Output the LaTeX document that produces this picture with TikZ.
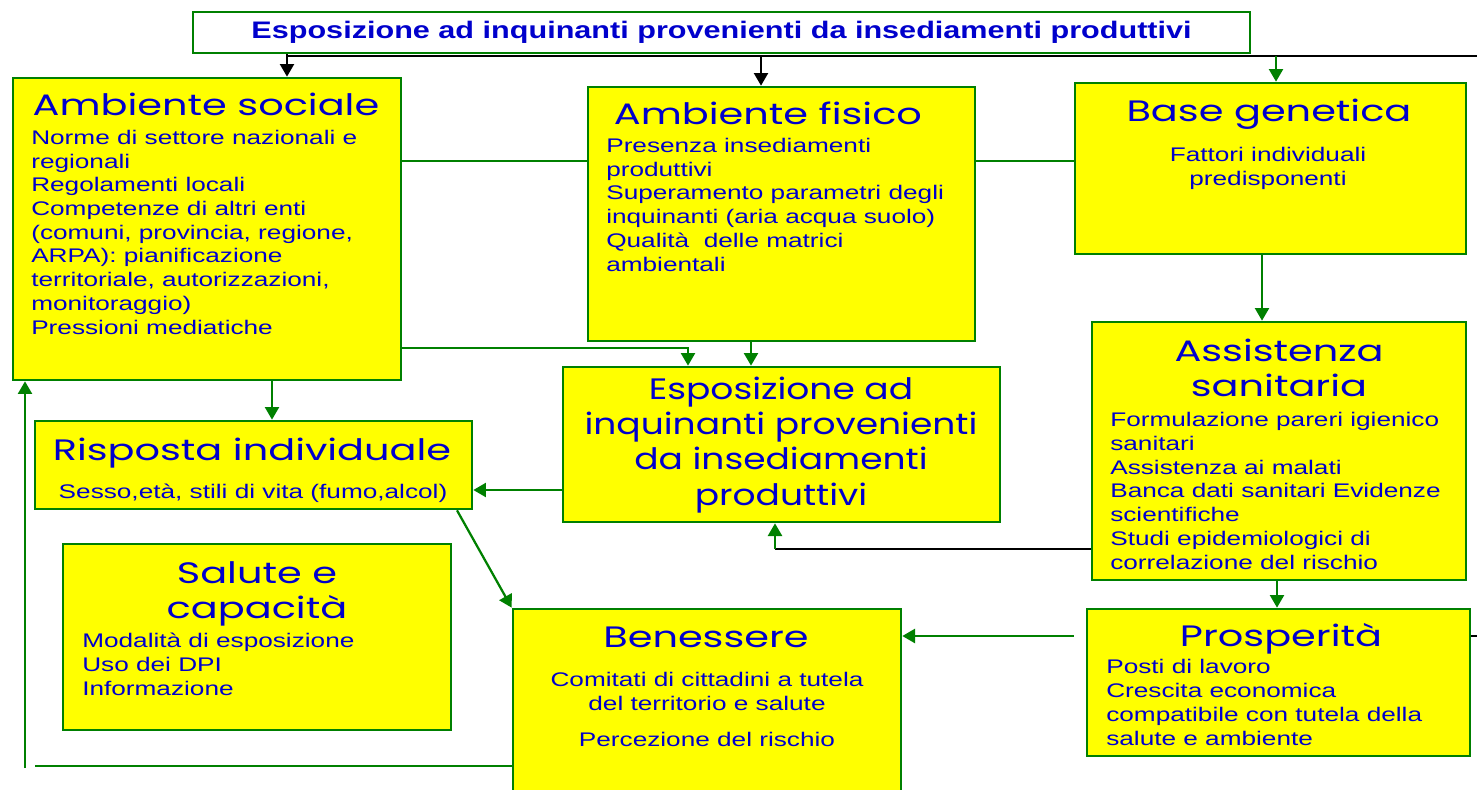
\documentclass[tikz,border=0pt]{standalone}
\usepackage{fontspec}
\newfontfamily\bodyfont{Liberation Sans}[FakeStretch=1.33]
\newfontfamily\headfont{Liberation Sans}[FakeStretch=1.28]
\newfontfamily\titlefont{Poppins}[FakeStretch=1.35]
\newfontfamily\titlefontnarrow{Poppins}[FakeStretch=1.22]
\usetikzlibrary{arrows.meta}
\definecolor{boxyellow}{RGB}{255,255,0}
\definecolor{boxgreen}{RGB}{0,128,0}
\definecolor{textblue}{RGB}{0,0,204}
\newdimen\pxu \pxu=0.025cm
\tikzset{
  box/.style={draw=boxgreen, fill=boxyellow, line width=1.9pt, inner sep=0pt},
  boxtitle/.style={font=\titlefont\fontsize{21}{24.5}\selectfont, text=textblue, align=center, inner sep=0pt},
  boxtext/.style={font=\bodyfont\fontsize{14}{16.85}\selectfont, text=textblue, align=left, inner sep=0pt},
  con/.style={draw=boxgreen, line width=1.6pt},
  conblack/.style={draw=black, line width=1.5pt},
  arr/.style={-{Triangle[length=9pt,width=10pt]}},
}
\begin{document}
\begin{tikzpicture}[x=0.025cm, y=-0.025cm]
        \clip (0,0) rectangle (1477,789);

        % Title bar
        \node[draw=boxgreen, fill=white, line width=1.3pt, minimum width=1057\pxu, minimum height=41\pxu,
              font=\headfont\bfseries\fontsize{17}{19}\selectfont, text=textblue] (top) at (721.5,32.5)
              {Esposizione ad inquinanti provenienti da insediamenti produttivi};

        % Boxes
        \node[box, minimum width=388\pxu, minimum height=302\pxu] (soc) at (207,229) {};
        \node[box, minimum width=387\pxu, minimum height=254\pxu] (fis) at (781.5,214) {};
        \node[box, minimum width=391\pxu, minimum height=171\pxu] (gen) at (1270.5,168.5) {};
        \node[box, minimum width=437\pxu, minimum height=155\pxu] (esp) at (781.5,444.5) {};
        \node[box, minimum width=437\pxu, minimum height=88\pxu] (ris) at (253.5,465) {};
        \node[box, minimum width=388\pxu, minimum height=186\pxu] (sal) at (257,637) {};
        \node[box, minimum width=388\pxu, minimum height=191\pxu] (ben) at (707,704.5) {};
        \node[box, minimum width=374\pxu, minimum height=258\pxu] (ass) at (1279,451) {};
        \node[box, minimum width=383\pxu, minimum height=147\pxu] (pro) at (1278.5,682.5) {};

        % Box titles (anchored on the baseline of the last line)
        \node[boxtitle, anchor=base] (soctitle) at (206,115) {Ambiente sociale};
        \node[boxtitle, anchor=base] (fistitle) at (768,124) {Ambiente fisico};
        \node[boxtitle, anchor=base] (gentitle) at (1269,121) {Base genetica};
        \node[boxtitle, anchor=base] (asstitle) at (1279,396) {Assistenza\\sanitaria};
        \node[boxtitle, anchor=base, font=\titlefontnarrow\fontsize{21}{25}\selectfont] (esptitle) at (781,505)
              {Esposizione ad\\inquinanti provenienti\\da insediamenti\\produttivi};
        \node[boxtitle, anchor=base] (ristitle) at (252,460) {Risposta individuale};
        \node[boxtitle, anchor=base] (saltitle) at (257,618) {Salute e\\capacità};
        \node[boxtitle, anchor=base] (bentitle) at (706,647) {Benessere};
        \node[boxtitle, anchor=base] (protitle) at (1281,646) {Prosperità};

        % Box texts (anchored on the baseline of the last line)
        \node[boxtext, anchor=base west] (soctext) at (31,334) {Norme di settore nazionali e\\regionali\\Regolamenti locali\\Competenze di altri enti\\(comuni, provincia, regione,\\ARPA): pianificazione\\territoriale, autorizzazioni,\\monitoraggio)\\Pressioni mediatiche};
        \node[boxtext, anchor=base west] (fistext) at (606,271) {Presenza insediamenti\\produttivi\\Superamento parametri degli\\inquinanti (aria acqua suolo)\\Qualità \ delle matrici\\ambientali};
        \node[boxtext, anchor=base, align=center] (gentext) at (1268,185) {Fattori individuali\\predisponenti};
        \node[boxtext, anchor=base west] (asstext) at (1110,569) {Formulazione pareri igienico\\sanitari\\Assistenza ai malati\\Banca dati sanitari Evidenze\\scientifiche\\Studi epidemiologici di\\correlazione del rischio};
        \node[boxtext, anchor=base] (ristext) at (253,498) {Sesso,età, stili di vita (fumo,alcol)};
        \node[boxtext, anchor=base west] (saltext) at (82,695) {Modalità di esposizione\\Uso dei DPI\\Informazione};
        \node[boxtext, anchor=base, align=center] (bentext) at (707,746) {Comitati di cittadini a tutela\\del territorio e salute\\[8.5pt]Percezione del rischio};
        \node[boxtext, anchor=base west] (protext) at (1106,745) {Posti di lavoro\\Crescita economica\\compatibile con tutela della\\salute e ambiente};

        % Connectors from the title bar
        \coordinate (topbar) at (287,56);
        \coordinate (fisdrop) at (761,56);
        \coordinate (gendrop) at (1276,56);
        \draw[conblack] (top.south -| topbar) -- (topbar) -- (1477,56);
        \draw[conblack, arr] (topbar) -- (topbar |- soc.north);
        \draw[conblack, arr] (fisdrop) -- (fisdrop |- fis.north);
        \draw[con, arr] (gendrop) -- (gendrop |- gen.north);

        % Links between the upper boxes
        \coordinate (midline) at (0,161);
        \draw[con] (soc.east |- midline) -- (fis.west |- midline);
        \draw[con] (fis.east |- midline) -- (gen.west |- midline);

        % Into the exposure box
        \coordinate (socesp) at (688,348);
        \coordinate (fisesp) at (751,0);
        \draw[con, arr] (soc.east |- socesp) -- (socesp) -- (socesp |- esp.north);
        \draw[con, arr] (fis.south -| fisesp) -- (fisesp |- esp.north);
        \coordinate (assesp) at (775,549);
        \draw[conblack] (ass.west |- assesp) -- (assesp);
        \draw[con, arr] (assesp) -- (assesp |- esp.south);

        % Individual response
        \coordinate (socris) at (272,0);
        \coordinate (espris) at (0,490);
        \coordinate (risben) at (457,0);
        \draw[con, arr] (soc.south -| socris) -- (socris |- ris.north);
        \draw[con, arr] (esp.west |- espris) -- (ris.east |- espris);
        \draw[con, arr] (ris.south -| risben) -- (ben.north west);

        % Right column
        \coordinate (genass) at (1262,0);
        \coordinate (asspro) at (1277,0);
        \coordinate (probar) at (0,636);
        \draw[con, arr] (gen.south -| genass) -- (genass |- ass.north);
        \draw[con, arr] (ass.south -| asspro) -- (asspro |- pro.north);
        \draw[con, arr, shorten <=12\pxu] (pro.west |- probar) -- (ben.east |- probar);
        \draw[conblack, line width=0.8pt] (pro.east |- probar) -- (1477,636);

        % Feedback loop back to the social box
        \coordinate (loopy) at (35,766);
        \coordinate (loopx) at (25,768);
        \draw[con] (ben.west |- loopy) -- (loopy);
        \draw[con, arr] (loopx) -- (loopx |- soc.south);
\end{tikzpicture}
\end{document}
